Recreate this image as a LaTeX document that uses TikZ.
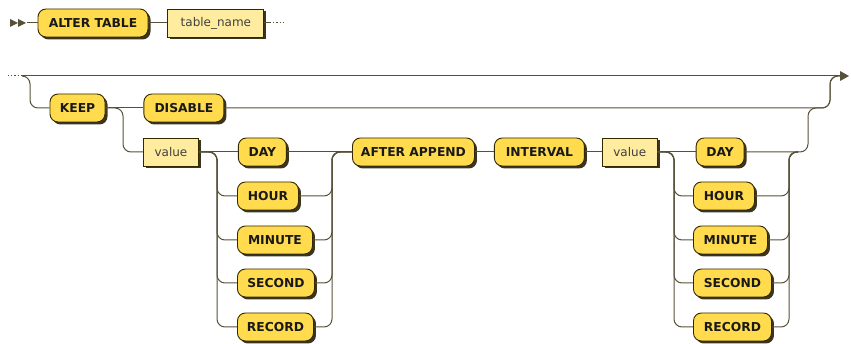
\documentclass[tikz,border=0pt]{standalone}
\usepackage{fontspec}
\setmainfont{DejaVu Sans}
\usepackage{tikz}
\usetikzlibrary{positioning, shadows}
\definecolor{kwfill}{HTML}{FFDB4D}
\definecolor{ntfill}{HTML}{FFEC9E}
\definecolor{boxedge}{HTML}{332900}
\definecolor{railcol}{HTML}{575138}
\definecolor{shade}{HTML}{3B3520}
\tikzstyle{kw} = [
draw=boxedge, fill=kwfill, line width=0.9pt,
rounded corners=8pt, minimum height=28pt, inner xsep=0pt,
font=\bfseries\fontsize{12.3}{13}\selectfont, text=black!90,
drop shadow={shadow xshift=2.5pt, shadow yshift=-2.5pt, fill=shade, opacity=1}
]
\tikzstyle{nt} = [
kw, sharp corners, fill=ntfill,
font=\fontsize{12}{13}\selectfont, text=black!75
]
\tikzstyle{rail} = [draw=railcol, line width=1pt, rounded corners=8pt]

\begin{document}
\begin{tikzpicture}[x=1pt, y=-1pt]
			\useasboundingbox (0,0) rectangle (851,344);
			% first line
			\node[kw, minimum width=110pt] (alter) at (93,23) {ALTER TABLE};
			\node[nt, minimum width=96pt, right=19pt of alter] (tname) {table\_name};
			\coordinate (start) at (27,23);
			\coordinate (cont) at (270,23);
			\fill[railcol] (10,19) -- (18,23) -- (10,27) -- cycle;
			\fill[railcol] (18,19) -- (26,23) -- (18,27) -- cycle;
			\draw[rail] (start) -- (alter.west);
			\draw[rail] (alter.east) -- (tname.west);
			\draw[rail] (tname.east) -- (cont);
			\draw[railcol, line width=1pt, dash pattern=on 1.2pt off 2pt] (cont) -- ++(14,0);
			
			% second line
			\node[kw, minimum width=55pt] (keep) at (77.5,108) {KEEP};
			\node[kw, minimum width=80pt, right=38pt of keep] (disable) {DISABLE};
			\node[nt, minimum width=55pt, anchor=west] (val1) at (143,152) {value};
			\node[kw, minimum width=48pt, right=39pt of val1] (day1) {DAY};
			\node[kw, minimum width=61pt, anchor=west] (hour1) at (237,196) {HOUR};
			\node[kw, minimum width=75pt, anchor=west] (minute1) at (237,240) {MINUTE};
			\node[kw, minimum width=77pt, anchor=west] (second1) at (237,283) {SECOND};
			\node[kw, minimum width=76pt, anchor=west] (record1) at (237,327) {RECORD};
			\node[kw, minimum width=122pt, anchor=west] (after) at (352,152) {AFTER APPEND};
			\node[kw, minimum width=90pt, right=19pt of after] (interval) {INTERVAL};
			\node[nt, minimum width=55pt, right=17pt of interval] (val2) {value};
			\node[kw, minimum width=48pt, right=38pt of val2] (day2) {DAY};
			\node[kw, minimum width=61pt, anchor=west] (hour2) at (693,196) {HOUR};
			\node[kw, minimum width=74pt, anchor=west] (minute2) at (693,240) {MINUTE};
			\node[kw, minimum width=78pt, anchor=west] (second2) at (693,283) {SECOND};
			\node[kw, minimum width=78pt, anchor=west] (record2) at (693,327) {RECORD};
			
			\coordinate (entry) at (22,76);
			\coordinate (finish) at (840,76);
			\coordinate (split1) at (217,152);
			\coordinate (join1) at (332,152);
			\coordinate (split2) at (674,152);
			\coordinate (merge2) at (789,152);
			\coordinate (merged) at (798,152);
			\coordinate (join2) at (808,152);
			\coordinate (back) at (830,108);
			
			\draw[railcol, line width=1pt, dash pattern=on 1.2pt off 2pt] (8,76) -- (entry);
			\draw[rail] (entry) -- (finish);
			\fill[railcol] (finish) ++(0,-5) -- ++(9,5) -- ++(-9,5) -- cycle;
			\draw[rail] (entry) -- (30,76) |- (keep.west);
			\draw[rail] (keep.east) -- (disable.west);
			\draw[rail] (keep.east) -- (123,108) |- (val1.west);
			\draw[rail] (disable.east) -- (back) |- (finish);
			
			\draw[rail] (val1.east) -- (day1.west);
			\draw[rail] (day1.east) -- (after.west);
			\foreach \n in {hour1, minute1, second1, record1} {
				\draw[rail] (val1.east) -- (split1) |- (\n.west);
				\draw[rail] (\n.east) -| (join1) -- (after.west);
			}
			\draw[rail] (after.east) -- (interval.west);
			\draw[rail] (interval.east) -- (val2.west);
			\draw[rail] (val2.east) -- (day2.west);
			\foreach \n in {hour2, minute2, second2, record2} {
				\draw[rail] (val2.east) -- (split2) |- (\n.west);
				\draw[rail] (\n.east) -| (merge2) -- (merged);
			}
			\draw[rail] (day2.east) -- (join2) |- (back) |- (finish);
		\end{tikzpicture}
\end{document}
